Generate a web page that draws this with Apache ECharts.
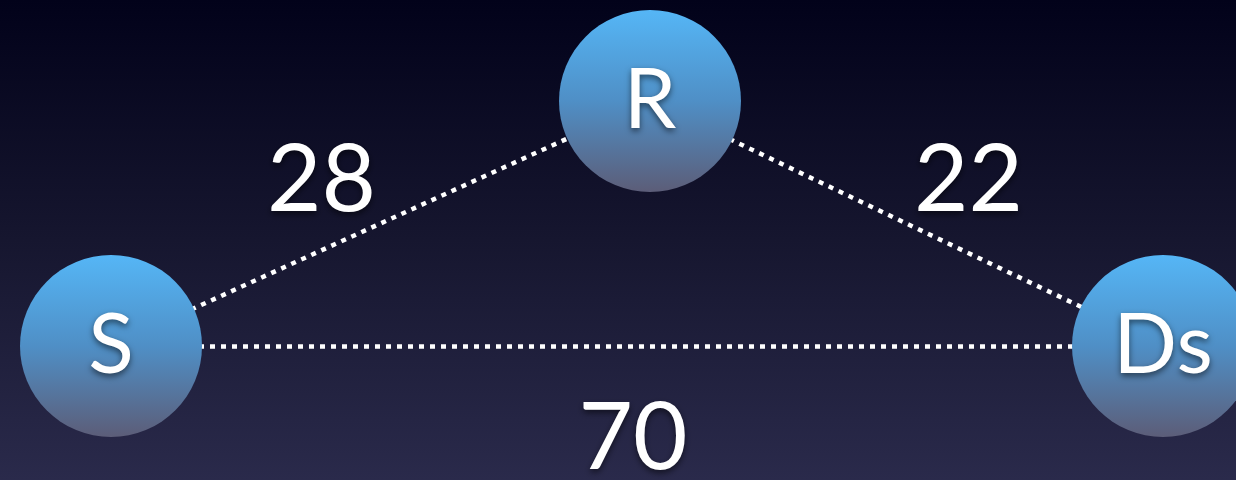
<!DOCTYPE html>
<html>
<head>
<meta charset="utf-8">
<script src="https://cdn.jsdelivr.net/npm/echarts@6/dist/echarts.min.js"></script>
<style>html,body{margin:0;padding:0;background:#0d0d24;}#c{width:1236px;height:480px;}</style>
</head>
<body>
<div id="c"></div>
<script>
// Node names and their layout positions (diagram units)
const nodeNames = ['S', 'R', 'Ds'];
const nodeX = [111, 650, 1163];
const nodeY = [346, 101, 346];
// Links and their weights
const linkSource = ['S', 'R', 'S'];
const linkTarget = ['R', 'Ds', 'Ds'];
const linkWeights = [28, 22, 70];

// label offsets from each link's midpoint (pixels)
const labelOffsets = [[-59, -43], [62, -43], [-4, 93]];

const chart = echarts.init(document.getElementById('c'));
const nodeGrad = new echarts.graphic.LinearGradient(0, 0, 0, 1, [
  { offset: 0, color: '#55b6f6' },
  { offset: 0.5, color: '#4f8fc6' },
  { offset: 1, color: '#5c5d78' }
]);
const shadow = { textShadowColor: 'rgba(0,0,0,0.55)', textShadowBlur: 6, textShadowOffsetY: 3 };
const idx = n => nodeNames.indexOf(n);
const labelData = linkSource.map((s, i) => {
  const a = idx(s), b = idx(linkTarget[i]);
  return {
    value: [(nodeX[a] + nodeX[b]) / 2, (nodeY[a] + nodeY[b]) / 2, linkWeights[i]],
    label: { offset: labelOffsets[i] }
  };
});
chart.setOption({
  backgroundColor: new echarts.graphic.LinearGradient(0, 0, 0, 1, [
    { offset: 0, color: '#02021a' },
    { offset: 0.5, color: '#16162f' },
    { offset: 1, color: '#2a2a4b' }
  ]),
  animation: false,
  grid: { left: 0, right: 0, top: 0, bottom: 0 },
  xAxis: { type: 'value', min: 0, max: 1236, show: false },
  yAxis: { type: 'value', min: 0, max: 480, inverse: true, show: false },
  series: [{
    type: 'graph',
    coordinateSystem: 'cartesian2d',
    symbol: 'circle',
    symbolSize: 182,
    data: nodeNames.map((n, i) => ({ name: n, value: [nodeX[i], nodeY[i]] })),
    itemStyle: { color: nodeGrad },
    label: {
      show: true, position: 'inside', color: '#ffffff',
      fontFamily: 'Lato', fontSize: 84, fontWeight: 'normal',
      formatter: p => p.name, ...shadow
    },
    links: linkSource.map((s, i) => ({ source: s, target: linkTarget[i], value: linkWeights[i] })),
    lineStyle: { color: '#ffffff', width: 4.5, type: [5, 6], opacity: 1, curveness: 0 },
    edgeLabel: { show: false },
    emphasis: { disabled: true }
  }, {
    type: 'scatter',
    symbolSize: 0,
    silent: true,
    itemStyle: { opacity: 1, color: 'transparent' },
    data: labelData,
    label: {
      show: true, position: 'inside', color: '#ffffff', opacity: 1,
      fontFamily: 'Lato', fontSize: 94,
      formatter: p => String(p.value[2]), ...shadow
    }
  }]
});
</script>
</body>
</html>
